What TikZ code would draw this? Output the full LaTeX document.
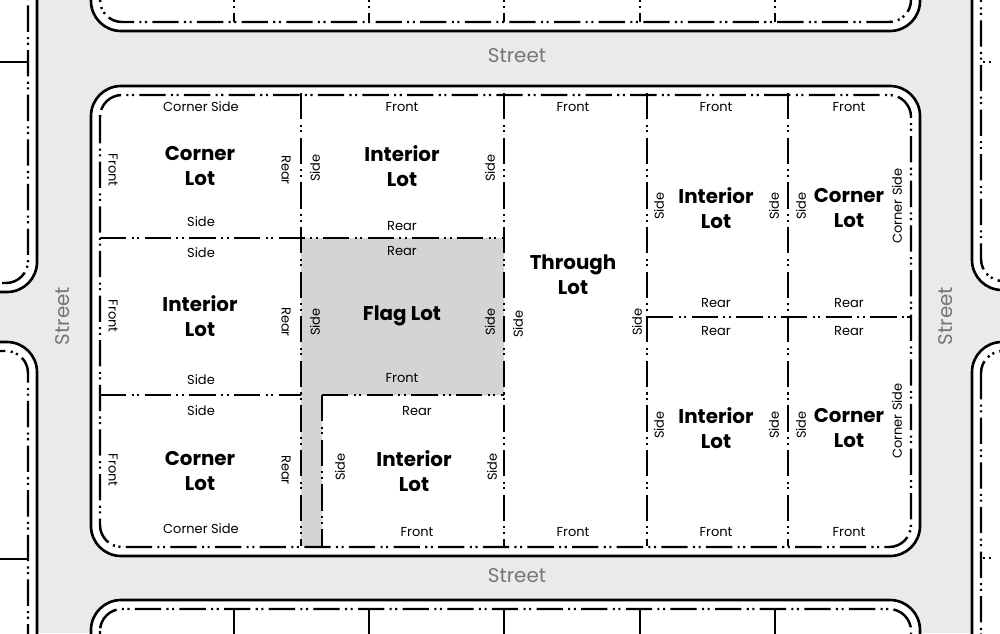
\documentclass[tikz,border=0pt]{standalone}
\usepackage{fontspec}
\setmainfont{Poppins}
\usetikzlibrary{calc}
\definecolor{strasse}{HTML}{E9EAEA}
\definecolor{flagg}{HTML}{D3D4D5}
\definecolor{grau}{HTML}{767676}
\tikzset{
  rand/.style={draw=black,line width=1.5pt},
  grenze/.style={draw=black,line width=1.4pt,dash pattern=on 15pt off 3pt on 1.2pt off 2pt on 1.2pt off 3pt},
  punkte/.style={draw=black,line width=1.4pt,dash pattern=on 1.2pt off 2pt on 1.2pt off 30pt},
  klein/.style={font=\fontsize{7.4}{9}\selectfont,inner sep=0pt},
  lotname/.style={font=\fontsize{11.3}{14}\selectfont\bfseries,align=center,inner sep=0pt},
  strname/.style={grau,font=\fontsize{11.3}{14}\selectfont,inner sep=0pt},
}

\begin{document}
\begin{tikzpicture}[x=0.02cm,y=-0.02cm]
  \useasboundingbox (0,0) rectangle (1000,633);
  \clip (0,0) rectangle (1000,633);
  % ===== Strassen als Hintergrund =====
  \fill[strasse] (0,0) rectangle (1000,633);
  % ===== Blöcke: weisse Fläche, Randlinie, Grundstücksgrenze innen =====
  \foreach \xa/\ya/\xb/\yb in {91/-100/920/31, 91/86/920/556, 91/600/920/800,
      -200/-100/37/292, -200/342/37/800, 972/-100/1200/290, 972/342/1200/800}{
    \filldraw[rand,fill=white,rounded corners=0.6cm] (\xa,\ya) rectangle (\xb,\yb);}
  % Fahnengrundstück
  \fill[flagg] (301,238) -- (504,238) -- (504,395) -- (322,395) -- (322,546) -- (301,546) -- cycle;
  \foreach \xa/\ya/\xb/\yb in {91/-100/920/31, 91/86/920/556, 91/600/920/800,
      -200/-100/37/292, -200/342/37/800, 972/-100/1200/290, 972/342/1200/800}{
    \draw[grenze,rounded corners=0.44cm] (\xa+9,\ya+9) rectangle (\xb-9,\yb-9);}
  % ===== Nachbarblöcke: angeschnittene Grenzen =====
  \foreach \x in {234,369,504,640,775}{
    \draw[grenze,dash phase=10pt] (\x,22) -- (\x,-5);
    \draw[grenze] (\x,609) -- (\x,640);}
  \draw[black,line width=1.4pt] (-5,62) -- (29,62);
  \draw[black,line width=1.4pt] (-5,559) -- (29,559);
  \draw[punkte] (983,62) -- (1005,62);
  \draw[punkte] (983,558) -- (1005,558);
  % ===== Grundstücksgrenzen im mittleren Block =====
  \draw[grenze] (301,93) -- (301,546);
  \draw[grenze] (504,93) -- (504,546);
  \draw[grenze] (647,93) -- (647,546);
  \draw[grenze] (788,93) -- (788,546);
  \draw[grenze] (100,238) -- (504,238);
  \draw[grenze] (100,395) -- (301,395);
  \draw[grenze] (322,395) -- (504,395);
  \draw[grenze] (322,395) -- (322,546);
  \draw[grenze] (647,317) -- (911,317);
  % ===== Beschriftung der Grenzen =====
  \foreach \x/\y/\t [count=\i] in {201/107/Corner Side, 402/107/Front, 573/107/Front, 716/107/Front, 849/107/Front,
      201/222/Side, 402/226/Rear, 201/253/Side, 402/251/Rear, 716/303/Rear, 849/303/Rear, 716/331/Rear, 849/331/Rear,
      201/380/Side, 402/378/Front, 201/411/Side, 417/411/Rear,
      201/529/Corner Side, 417/532/Front, 573/532/Front, 716/532/Front, 849/532/Front}
    \node[klein] (h\i) at (\x,\y) {\t};
  \foreach \x/\y/\t [count=\i] in {315/168/Side, 490/168/Side, 315/322/Side, 490/322/Side, 518/324/Side, 637/322/Side,
      340/467/Side, 492/467/Side, 659/206/Side, 774/206/Side, 801/206/Side, 659/425/Side, 774/425/Side, 801/425/Side,
      897/206/Corner Side, 897/421/Corner Side}
    \node[klein,rotate=90] (l\i) at (\x,\y) {\t};
  \foreach \x/\y/\t [count=\i] in {113/170/Front, 286/170/Rear, 113/316/Front, 286/322/Rear, 113/470/Front, 286/470/Rear}
    \node[klein,rotate=-90] (r\i) at (\x,\y) {\t};
  % ===== Grundstücksarten =====
  \foreach \x/\y/\t [count=\i] in {200/166/{Corner\\Lot}, 402/166/{Interior\\Lot}, 200/316/{Interior\\Lot},
      402/316/{Flag Lot}, 200/471/{Corner\\Lot}, 414/471/{Interior\\Lot}, 573/275/{Through\\Lot},
      716/208/{Interior\\Lot}, 849/208/{Corner\\Lot}, 716/428/{Interior\\Lot}, 849/428/{Corner\\Lot}}
    \node[lotname] (lot\i) at (\x,\y) {\t};
  % ===== Strassennamen =====
  \node[strname] (s1) at (517,56) {Street};
  \node[strname] (s2) at (517,576) {Street};
  \node[strname,rotate=90] (s3) at (63,316) {Street};
  \node[strname,rotate=90] (s4) at (946,316) {Street};
\end{tikzpicture}
\end{document}
